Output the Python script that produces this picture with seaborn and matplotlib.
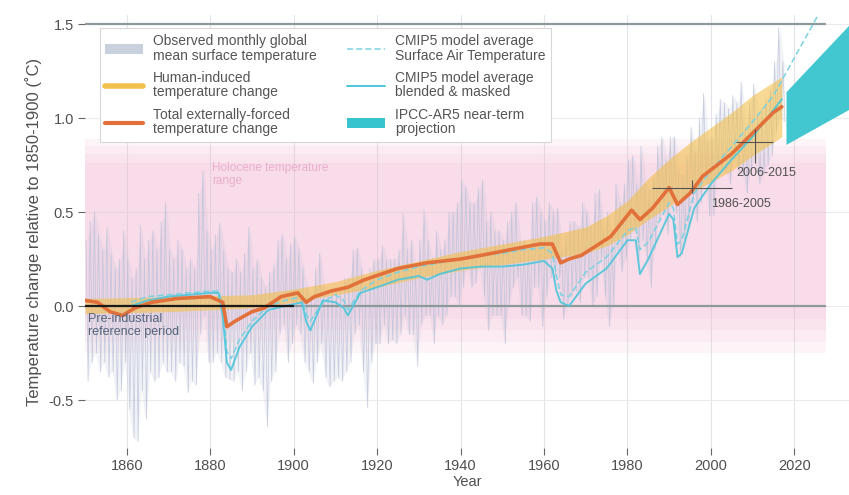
import numpy as np
import pandas as pd
import matplotlib
matplotlib.use("Agg")
import matplotlib.pyplot as plt
from matplotlib.patches import Patch
from matplotlib.lines import Line2D
import seaborn as sns

# ---------------------------------------------------------------- data
# Observed monthly GMST: per-year upper and lower monthly extremes, 1850-2017
obs_start, obs_end = 1850, 2017
obs_hi = [0.35, 0.45, 0.50, 0.38, 0.30, 0.42, 0.28, 0.20, 0.25, 0.40,
          0.25, 0.15, 0.20, 0.43, 0.25, 0.35, 0.40, 0.30, 0.45, 0.55,
          0.30, 0.25, 0.35, 0.30, 0.20, 0.25, 0.20, 0.60, 0.72, 0.40,
          0.30, 0.38, 0.44, 0.30, 0.20, 0.18, 0.25, 0.18, 0.28, 0.42,
          0.20, 0.25, 0.15, 0.10, 0.18, 0.22, 0.35, 0.38, 0.25, 0.33,
          0.37, 0.30, 0.20, 0.10, 0.05, 0.20, 0.28, 0.10, 0.08, 0.10,
          0.10, 0.08, 0.15, 0.15, 0.30, 0.31, 0.20, 0.10, 0.20, 0.25,
          0.25, 0.32, 0.25, 0.25, 0.25, 0.30, 0.49, 0.30, 0.35, 0.20,
          0.35, 0.51, 0.35, 0.25, 0.40, 0.30, 0.35, 0.50, 0.50, 0.55,
          0.67, 0.63, 0.55, 0.55, 0.63, 0.67, 0.45, 0.50, 0.40, 0.40,
          0.35, 0.45, 0.50, 0.55, 0.35, 0.35, 0.30, 0.55, 0.58, 0.50,
          0.45, 0.55, 0.50, 0.52, 0.30, 0.38, 0.45, 0.45, 0.42, 0.55,
          0.50, 0.42, 0.60, 0.62, 0.40, 0.50, 0.40, 0.65, 0.55, 0.65,
          0.78, 0.80, 0.65, 0.85, 0.65, 0.62, 0.68, 0.85, 0.90, 0.78,
          0.90, 0.90, 0.70, 0.70, 0.80, 0.95, 0.82, 1.00, 1.13, 0.88,
          0.90, 1.02, 1.10, 1.08, 1.05, 1.12, 1.08, 1.19, 0.95, 1.08,
          1.18, 1.02, 1.05, 1.10, 1.15, 1.30, 1.48, 1.30]
obs_lo = [-0.40, -0.30, -0.25, -0.35, -0.30, -0.38, -0.35, -0.50, -0.45, -0.30,
          -0.55, -0.70, -0.72, -0.45, -0.60, -0.35, -0.40, -0.38, -0.30, -0.35,
          -0.35, -0.40, -0.30, -0.32, -0.46, -0.40, -0.42, -0.15, -0.05, -0.30,
          -0.30, -0.25, -0.30, -0.38, -0.39, -0.40, -0.35, -0.45, -0.35, -0.25,
          -0.42, -0.38, -0.45, -0.64, -0.40, -0.35, -0.15, -0.10, -0.30, -0.20,
          -0.10, -0.15, -0.30, -0.35, -0.41, -0.30, -0.20, -0.38, -0.43, -0.40,
          -0.38, -0.40, -0.35, -0.30, -0.15, -0.10, -0.35, -0.54, -0.30, -0.20,
          -0.20, -0.10, -0.20, -0.18, -0.20, -0.15, -0.05, -0.15, -0.15, -0.32,
          -0.10, -0.05, -0.05, -0.20, -0.05, -0.10, -0.05, 0.05, 0.05, 0.00,
          0.10, 0.20, 0.10, 0.12, 0.20, 0.05, -0.13, -0.05, -0.05, -0.05,
          -0.20, 0.00, 0.10, 0.15, -0.05, -0.05, -0.08, 0.10, 0.10, -0.11,
          0.05, 0.15, 0.15, 0.15, -0.07, 0.00, 0.05, 0.08, 0.02, 0.15,
          0.15, 0.00, 0.05, 0.25, 0.05, -0.11, 0.00, 0.30, 0.18, 0.25,
          0.35, 0.40, 0.25, 0.35, 0.25, 0.10, 0.30, 0.45, 0.50, 0.38,
          0.55, 0.50, 0.26, 0.35, 0.42, 0.55, 0.45, 0.55, 0.70, 0.48,
          0.48, 0.68, 0.72, 0.72, 0.65, 0.78, 0.72, 0.70, 0.60, 0.72,
          0.78, 0.65, 0.70, 0.75, 0.80, 0.92, 1.00, 0.98]

# Human-induced warming range
hum_years = [1850, 1870, 1890, 1900, 1910, 1920, 1930, 1940, 1950, 1960,
             1970, 1975, 1980, 1985, 1990, 1995, 2000, 2005, 2010, 2017]
hum_lo = [-0.04, -0.03, -0.01, 0.02, 0.06, 0.10, 0.15, 0.19, 0.22, 0.25,
          0.28, 0.32, 0.38, 0.46, 0.53, 0.60, 0.66, 0.72, 0.80, 0.90]
hum_hi = [0.04, 0.05, 0.06, 0.09, 0.13, 0.19, 0.24, 0.29, 0.33, 0.37,
          0.42, 0.48, 0.56, 0.68, 0.78, 0.87, 0.95, 1.03, 1.12, 1.22]

# Total externally-forced warming
forced_years = [1850, 1853, 1856, 1859, 1862, 1866, 1872, 1880, 1883, 1884,
                1886, 1890, 1893, 1897, 1901, 1903, 1905, 1909, 1913, 1917,
                1925, 1932, 1940, 1945, 1952, 1959, 1962, 1964, 1966, 1969,
                1976, 1981, 1983, 1986, 1990, 1992, 1995, 1998, 2005, 2010,
                2015, 2017]
forced_vals = [0.03, 0.02, -0.03, -0.05, -0.01, 0.02, 0.04, 0.05, 0.02, -0.11,
               -0.08, -0.03, -0.01, 0.05, 0.07, 0.02, 0.05, 0.08, 0.10, 0.14,
               0.20, 0.23, 0.25, 0.27, 0.30, 0.33, 0.33, 0.23, 0.25, 0.27,
               0.37, 0.51, 0.46, 0.52, 0.63, 0.54, 0.60, 0.69, 0.81, 0.92,
               1.03, 1.06]

# CMIP5 model average, surface air temperature
sat_years = [1861, 1865, 1870, 1875, 1880, 1882, 1883, 1884, 1885, 1887,
             1890, 1894, 1898, 1902, 1903, 1904, 1907, 1910, 1912, 1913,
             1916, 1920, 1925, 1930, 1935, 1940, 1945, 1950, 1955, 1960,
             1962, 1963, 1964, 1966, 1970, 1975, 1980, 1982, 1983, 1985,
             1990, 1991, 1992, 1993, 1996, 2000, 2005, 2010, 2015, 2020,
             2025, 2030]
sat_vals = [0.02, 0.05, 0.06, 0.07, 0.08, 0.08, 0.00, -0.24, -0.28, -0.18,
            -0.08, 0.00, 0.03, 0.05, -0.04, -0.08, 0.02, 0.06, 0.03, -0.02,
            0.08, 0.14, 0.18, 0.21, 0.23, 0.25, 0.27, 0.28, 0.30, 0.31,
            0.28, 0.16, 0.06, 0.05, 0.18, 0.26, 0.40, 0.42, 0.30, 0.34,
            0.55, 0.52, 0.33, 0.35, 0.60, 0.72, 0.85, 0.98, 1.12, 1.32,
            1.52, 1.72]

# CMIP5 model average, blended and masked
bm_years = [1861, 1865, 1870, 1875, 1880, 1882, 1883, 1884, 1885, 1887,
            1890, 1894, 1898, 1902, 1903, 1904, 1907, 1910, 1912, 1913,
            1916, 1920, 1925, 1930, 1932, 1935, 1940, 1945, 1950, 1955,
            1960, 1962, 1963, 1964, 1966, 1970, 1975, 1980, 1982, 1983,
            1985, 1990, 1991, 1992, 1993, 1996, 2000, 2005, 2010, 2017]
bm_vals = [0.00, 0.03, 0.05, 0.06, 0.07, 0.07, -0.05, -0.30, -0.34, -0.22,
           -0.11, -0.02, 0.00, 0.02, -0.08, -0.13, 0.03, 0.02, -0.01, -0.05,
           0.07, 0.10, 0.14, 0.16, 0.14, 0.17, 0.20, 0.21, 0.21, 0.22,
           0.24, 0.20, 0.08, 0.02, 0.00, 0.12, 0.20, 0.35, 0.35, 0.17,
           0.25, 0.49, 0.46, 0.26, 0.28, 0.52, 0.65, 0.78, 0.90, 1.10]

# IPCC-AR5 near-term projection range
proj_years = [2018, 2035]
proj_lo = [0.86, 1.07]
proj_hi = [1.14, 1.54]

# Holocene temperature range (soft-edged layers)
holo_span = [1850, 2027.5]
holo_lo = [-0.25, -0.19, -0.13, -0.07]
holo_hi = [0.89, 0.85, 0.81, 0.76]

# Reference periods
preind_period = [1850, 1900]
period_a = [1986, 2005]
period_a_mid, period_a_val, period_a_v = 1995.5, 0.63, [0.60, 0.67]
period_b = [2006, 2015]
period_b_mid, period_b_val, period_b_v = 2010.5, 0.87, [0.76, 0.94]

x_ticks = [1860, 1880, 1900, 1920, 1940, 1960, 1980, 2000, 2020]
y_ticks = [-0.5, 0.0, 0.5, 1.0, 1.5]

# ---------------------------------------------------------------- style
sns.set_theme(style="white")
plt.rcParams["font.family"] = ["Liberation Sans", "DejaVu Sans"]

C_OBS = "#b9bfd6"
C_HUM = "#f2c04c"
C_FORCED = "#e2703a"
C_SAT = "#7ad2e3"
C_BM = "#4cc6da"
C_PROJ = "#38c4cf"
C_PINK = "#f2b8d2"
C_TEXT = "#505050"

fig = plt.figure(figsize=(8.49, 4.95), dpi=100)
ax = fig.add_axes([85 / 849, 47 / 495, 764 / 849, 433 / 495])
ax.set_xlim(1850, 2033.1)
ax.set_ylim(-0.755, 1.548)

# faint grid
for xt in x_ticks:
    ax.axvline(xt, color="#e4e4e8", lw=0.8, zorder=0)
for yt in y_ticks:
    ax.axhline(yt, color="#ececf0", lw=0.8, zorder=0)

# Holocene band
for lo, hi in zip(holo_lo, holo_hi):
    ax.fill_between(holo_span, [lo, lo], [hi, hi], color=C_PINK, alpha=0.14,
                    lw=0, zorder=1)
ax.text(1880.5, 0.70, "Holocene temperature\nrange", color="#e7a6c6",
        fontsize=8.5, alpha=0.85, va="center", ha="left", linespacing=1.1,
        zorder=2)

# observed monthly record: soft body plus spikes between monthly extremes
yrs = np.arange(obs_start, obs_end + 1)
ax.fill_between(yrs + 0.5, obs_lo, obs_hi, color=C_OBS, alpha=0.18, lw=0,
                zorder=3)
obs = pd.DataFrame({
    "year": np.column_stack([yrs + 0.25, yrs + 0.75]).ravel(),
    "temp": np.column_stack([obs_hi, obs_lo]).ravel(),
})
sns.lineplot(data=obs, x="year", y="temp", ax=ax, color=C_OBS, lw=0.55,
             alpha=0.75, zorder=3, sort=False)

# reference lines
ax.hlines([0.0, 1.5], 1850, 2027.5, color="#8c9a9c", lw=1.6, zorder=4)
ax.hlines(0.0, *preind_period, color="#1a1a1a", lw=1.6, zorder=9)

# human-induced range
ax.fill_between(hum_years, hum_lo, hum_hi, color=C_HUM, alpha=0.6, lw=0,
                zorder=5)

# CMIP5 curves
sat = pd.DataFrame({"year": sat_years, "temp": sat_vals})
sns.lineplot(data=sat, x="year", y="temp", ax=ax, color=C_SAT, lw=1.1,
             linestyle=(0, (4, 2)), zorder=6)
bm = pd.DataFrame({"year": bm_years, "temp": bm_vals})
sns.lineplot(data=bm, x="year", y="temp", ax=ax, color=C_BM, lw=1.4,
             alpha=0.9, zorder=7)

# total externally forced
forced = pd.DataFrame({"year": forced_years, "temp": forced_vals})
sns.lineplot(data=forced, x="year", y="temp", ax=ax, color=C_FORCED, lw=2.6,
             zorder=8)

# projection cone
ax.fill_between(proj_years, proj_lo, proj_hi, color=C_PROJ, alpha=0.95, lw=0,
                zorder=6)

# reference period markers
ax.hlines(period_a_val, *period_a, color="#555555", lw=0.8, zorder=10)
ax.vlines(period_a_mid, *period_a_v, color="#555555", lw=0.8, zorder=10)
ax.hlines(period_b_val, *period_b, color="#555555", lw=0.8, zorder=10)
ax.vlines(period_b_mid, *period_b_v, color="#555555", lw=0.8, zorder=10)
ax.text(2006.2, 0.71, "2006-2015", fontsize=9, color=C_TEXT, va="center",
        zorder=11)
ax.text(2000.0, 0.545, "1986-2005", fontsize=9, color=C_TEXT, va="center",
        zorder=11)
ax.text(1850.8, -0.035, "Pre-industrial\nreference period", fontsize=9,
        color="#55627a", va="top", linespacing=1.1, zorder=11)

# axes cosmetics
sns.despine(ax=ax, left=True, bottom=True)
ax.set_xticks(x_ticks)
ax.set_yticks(y_ticks)
ax.set_yticklabels([f"{v:.1f}" for v in y_ticks])
ax.tick_params(axis="both", which="both", length=5, width=0.8,
               color="#666666", labelsize=10.5, labelcolor=C_TEXT,
               left=True, bottom=True, pad=3)
ax.set_xlabel("Year", fontsize=10.5, color=C_TEXT, labelpad=1)
ax.set_ylabel("Temperature change relative to 1850-1900 (˚C)", fontsize=12,
              color=C_TEXT, labelpad=5)

handles = [
    Patch(facecolor="#c9d1de", edgecolor="none"),
    Line2D([], [], color=C_HUM, lw=4),
    Line2D([], [], color=C_FORCED, lw=3),
    Line2D([], [], color=C_SAT, lw=1.1, linestyle=(0, (4, 2))),
    Line2D([], [], color=C_BM, lw=1.4),
    Patch(facecolor=C_PROJ, edgecolor="none"),
]
labels = [
    "Observed monthly global\nmean surface temperature",
    "Human-induced\ntemperature change",
    "Total externally-forced\ntemperature change",
    "CMIP5 model average\nSurface Air Temperature",
    "CMIP5 model average\nblended & masked",
    "IPCC-AR5 near-term\nprojection",
]
leg = ax.legend(handles, labels, ncol=2, loc="upper left",
                bbox_to_anchor=(0.010, 0.985), fontsize=10, frameon=True,
                fancybox=False, edgecolor="#d8d8d8", framealpha=1.0,
                handlelength=2.7, handletextpad=0.75, columnspacing=2.2,
                labelspacing=0.6, borderpad=0.4)
leg.get_frame().set_linewidth(0.8)
leg.set_zorder(20)
for t in leg.get_texts():
    t.set_color("#555555")
    t.set_linespacing(1.05)

fig.savefig("out.png", dpi=100)
